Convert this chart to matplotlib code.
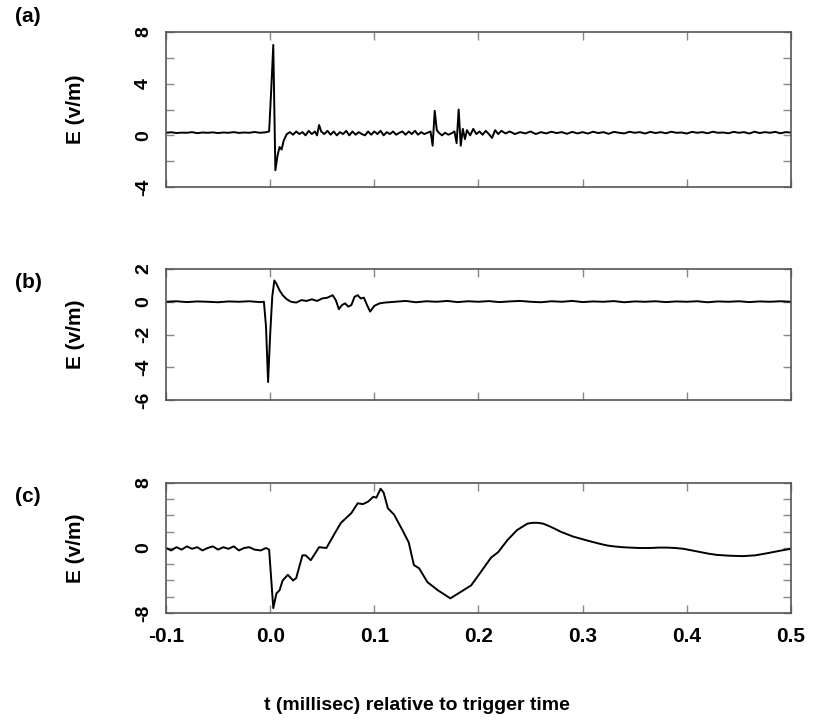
import matplotlib

matplotlib.use("Agg")
import matplotlib.pyplot as plt
import numpy as np

plt.rcParams["font.family"] = ["Liberation Sans", "DejaVu Sans"]
plt.rcParams["font.weight"] = "bold"

# panel (a) field record
t_a = [-0.1, -0.095, -0.09, -0.085, -0.08, -0.075, -0.07, -0.065, -0.06, -0.055,
       -0.05, -0.045, -0.04, -0.035, -0.03, -0.025, -0.02, -0.015, -0.01, -0.005,
       -0.001, 0.001, 0.003, 0.005, 0.007, 0.009, 0.011, 0.013, 0.016, 0.019,
       0.022, 0.025, 0.028, 0.031, 0.034, 0.037, 0.04, 0.043, 0.045, 0.047,
       0.049, 0.052, 0.055, 0.058, 0.061, 0.064, 0.067, 0.07, 0.073, 0.076,
       0.079, 0.082, 0.085, 0.088, 0.091, 0.094, 0.097, 0.1, 0.103, 0.106,
       0.109, 0.112, 0.115, 0.118, 0.121, 0.124, 0.127, 0.13, 0.133, 0.136,
       0.139, 0.142, 0.145, 0.148, 0.151, 0.154, 0.156, 0.158, 0.16, 0.162,
       0.165, 0.168, 0.171, 0.174, 0.177, 0.179, 0.181, 0.183, 0.185, 0.187,
       0.189, 0.192, 0.195, 0.198, 0.201, 0.204, 0.207, 0.21, 0.213, 0.216,
       0.219, 0.222, 0.226, 0.23, 0.235, 0.24, 0.245, 0.25, 0.255, 0.26,
       0.265, 0.27, 0.275, 0.28, 0.285, 0.29, 0.295, 0.3, 0.305, 0.31,
       0.315, 0.32, 0.325, 0.33, 0.335, 0.34, 0.345, 0.35, 0.355, 0.36,
       0.365, 0.37, 0.375, 0.38, 0.385, 0.39, 0.395, 0.4, 0.405, 0.41,
       0.415, 0.42, 0.425, 0.43, 0.435, 0.44, 0.445, 0.45, 0.455, 0.46,
       0.465, 0.47, 0.475, 0.48, 0.485, 0.49, 0.495, 0.5]
e_a = [0.2, 0.24, 0.18, 0.21, 0.2, 0.25, 0.17, 0.22, 0.2, 0.23,
       0.18, 0.22, 0.2, 0.25, 0.19, 0.22, 0.2, 0.26, 0.2, 0.23,
       0.3, 3.5, 7.0, -2.7, -1.6, -0.9, -1.1, -0.4, 0.1, 0.25,
       0.05, 0.3, 0.1, 0.25, 0.0, 0.35, 0.1, 0.3, 0.0, 0.8,
       0.3, 0.1, 0.35, 0.05, 0.3, 0.0, 0.25, 0.1, 0.35, 0.0,
       0.3, 0.05, 0.25, 0.1, 0.0, 0.3, 0.05, 0.3, 0.1, 0.35,
       0.0, 0.25, 0.1, 0.3, 0.05, 0.2, 0.3, 0.05, 0.3, 0.1,
       0.35, 0.05, 0.25, 0.1, 0.2, 0.3, -0.8, 1.9, 0.4, 0.2,
       0.0, 0.2, 0.05, 0.15, 0.3, -0.6, 2.0, -0.8, 0.5, -0.3,
       0.4, 0.0, 0.5, 0.1, 0.3, 0.05, 0.35, 0.1, -0.2, 0.4,
       0.1, 0.35, 0.15, 0.3, 0.1, 0.25, 0.15, 0.3, 0.1, 0.25,
       0.15, 0.28, 0.18, 0.25, 0.12, 0.27, 0.15, 0.25, 0.14, 0.28,
       0.18, 0.25, 0.12, 0.27, 0.2, 0.15, 0.28, 0.2, 0.25, 0.14,
       0.27, 0.18, 0.25, 0.16, 0.28, 0.2, 0.22, 0.14, 0.27, 0.2,
       0.25, 0.16, 0.28, 0.2, 0.22, 0.16, 0.27, 0.2, 0.25, 0.14,
       0.28, 0.18, 0.25, 0.2, 0.27, 0.16, 0.25, 0.22]

# panel (b) field record
t_b = [-0.1, -0.09, -0.08, -0.07, -0.06, -0.05, -0.04, -0.03, -0.02, -0.01,
       -0.006, -0.004, -0.002, 0.0, 0.002, 0.004, 0.006, 0.009, 0.012, 0.016,
       0.02, 0.025, 0.03, 0.035, 0.04, 0.045, 0.05, 0.055, 0.06, 0.063,
       0.066, 0.069, 0.072, 0.075, 0.078, 0.081, 0.084, 0.087, 0.09, 0.093,
       0.096, 0.1, 0.105, 0.11, 0.12, 0.13, 0.14, 0.15, 0.16, 0.17,
       0.18, 0.19, 0.2, 0.21, 0.22, 0.23, 0.24, 0.25, 0.26, 0.27,
       0.28, 0.29, 0.3, 0.31, 0.32, 0.33, 0.34, 0.35, 0.36, 0.37,
       0.38, 0.39, 0.4, 0.41, 0.42, 0.43, 0.44, 0.45, 0.46, 0.47,
       0.48, 0.49, 0.5]
e_b = [0.0, 0.03, -0.02, 0.02, 0.0, -0.03, 0.02, 0.0, 0.03, -0.02,
       0.0, -1.5, -4.9, -2.0, 0.3, 1.3, 1.1, 0.7, 0.4, 0.15,
       0.0, -0.05, 0.1, 0.05, 0.15, 0.05, 0.2, 0.25, 0.4, 0.1,
       -0.45, -0.2, -0.1, -0.3, -0.2, 0.3, 0.4, 0.2, 0.25, -0.2,
       -0.6, -0.25, -0.1, -0.05, 0.0, 0.05, -0.03, 0.03, 0.0, 0.05,
       -0.02, 0.03, 0.0, 0.04, -0.02, 0.02, 0.05, 0.0, -0.03, 0.03,
       0.0, 0.05, -0.02, 0.02, 0.0, 0.04, -0.03, 0.02, 0.0, 0.03,
       -0.02, 0.02, 0.0, 0.03, -0.03, 0.02, 0.0, 0.03, -0.02, 0.02,
       0.0, 0.03, 0.0]

# panel (c) field record
t_c = [-0.1, -0.095, -0.09, -0.085, -0.08, -0.075, -0.07, -0.065, -0.06, -0.055,
       -0.05, -0.045, -0.04, -0.035, -0.03, -0.025, -0.02, -0.015, -0.009, -0.004,
       -0.001, 0.003, 0.006, 0.009, 0.012, 0.017, 0.022, 0.025, 0.031, 0.034,
       0.039, 0.047, 0.054, 0.062, 0.068, 0.078, 0.084, 0.089, 0.094, 0.099,
       0.102, 0.106, 0.109, 0.113, 0.119, 0.127, 0.133, 0.138, 0.143, 0.151,
       0.161, 0.173, 0.183, 0.193, 0.202, 0.212, 0.219, 0.228, 0.237, 0.247,
       0.252, 0.257, 0.262, 0.266, 0.272, 0.279, 0.285, 0.291, 0.298, 0.305,
       0.311, 0.317, 0.324, 0.33, 0.338, 0.345, 0.355, 0.365, 0.373, 0.381,
       0.389, 0.397, 0.405, 0.413, 0.421, 0.429, 0.441, 0.454, 0.466, 0.477,
       0.489, 0.5]
e_c = [0.0, -0.3, 0.1, -0.2, 0.2, -0.1, 0.1, -0.3, 0.0, 0.2,
       -0.2, 0.1, -0.1, 0.2, -0.3, 0.0, 0.1, -0.2, -0.3, 0.0,
       -0.2, -7.4, -5.6, -5.2, -4.0, -3.3, -4.0, -3.7, -0.9, -0.9,
       -1.5, 0.1, 0.0, 1.8, 3.1, 4.3, 5.5, 5.4, 5.7, 6.3,
       6.2, 7.3, 6.8, 4.9, 4.1, 2.2, 0.7, -2.1, -2.5, -4.2,
       -5.2, -6.2, -5.4, -4.6, -3.0, -1.2, -0.5, 1.0, 2.2, 3.0,
       3.1, 3.1, 3.0, 2.8, 2.45, 2.0, 1.7, 1.4, 1.15, 0.9,
       0.7, 0.5, 0.3, 0.2, 0.1, 0.05, 0.0, 0.0, 0.05, 0.05,
       0.0, -0.1, -0.3, -0.5, -0.7, -0.85, -0.95, -1.0, -0.9, -0.65,
       -0.35, -0.1]

x_ticks = [-0.1, 0.0, 0.1, 0.2, 0.3, 0.4, 0.5]
x_labels = ["-0.1", "0.0", "0.1", "0.2", "0.3", "0.4", "0.5"]

panels = [
    ("(a)", t_a, e_a, (-4, 8), np.arange(-4, 9, 2), [8, 4, 0, -4],
     [0.2027, 0.7406, 0.763, 0.215], 17),
    ("(b)", t_b, e_b, (-6, 2), np.arange(-6, 3, 2), [2, 0, -2, -4, -6],
     [0.2027, 0.4452, 0.763, 0.1817], 282),
    ("(c)", t_c, e_c, (-8, 8), np.arange(-8, 9, 2), [8, 0, -8],
     [0.2027, 0.1498, 0.763, 0.1803], 497),
]

fig = plt.figure(figsize=(8.19, 7.21), dpi=100)
frame = "#555555"

for i, (tag, t, e, ylim, yt, ylab, rect, ytag) in enumerate(panels):
    ax = fig.add_axes(rect)
    ax.plot(t, e, color="black", lw=1.4)
    ax.set_xlim(-0.1, 0.5)
    ax.set_ylim(*ylim)
    ax.set_xticks(x_ticks)
    ax.set_yticks(yt)
    ax.set_yticklabels([str(v) if v in ylab else "" for v in yt],
                       rotation=90, va="center", fontsize=14, fontweight="bold")
    if i == 2:
        ax.set_xticklabels(x_labels, fontsize=15, fontweight="bold")
    else:
        ax.set_xticklabels([])
    ax.tick_params(direction="in", top=True, right=True, length=6,
                   color="#888888", width=1)
    ax.tick_params(axis="y", pad=10)
    ax.tick_params(axis="x", pad=10)
    for s in ax.spines.values():
        s.set_color(frame)
        s.set_linewidth(1.2)
    ax.set_ylabel("E (v/m)", fontsize=15, fontweight="bold", labelpad=36)
    fig.text(28 / 819, 1 - ytag / 721, tag, ha="center", va="center",
             fontsize=15, fontweight="bold")

fig.text(417 / 819, 1 - 706 / 721, "t (millisec) relative to trigger time",
         ha="center", va="center", fontsize=14, fontweight="bold")

fig.savefig("out.png", dpi=100)
